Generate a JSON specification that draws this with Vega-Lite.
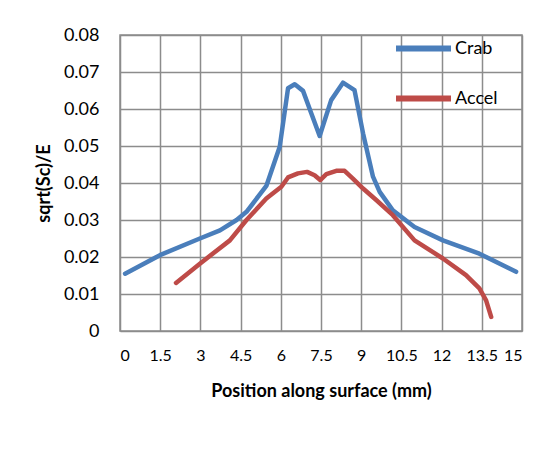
{
  "$schema": "https://vega.github.io/schema/vega-lite/v6.json",
  "width": 402,
  "height": 296,
  "autosize": {"type": "none"},
  "padding": {"left": 120, "top": 35, "right": 38, "bottom": 120},
  "background": "white",
  "data": {
    "values": [
      {"pos": 0.19, "val": 0.0155, "series": "Crab"},
      {"pos": 1.49, "val": 0.0205, "series": "Crab"},
      {"pos": 2.98, "val": 0.025, "series": "Crab"},
      {"pos": 3.73, "val": 0.0272, "series": "Crab"},
      {"pos": 4.35, "val": 0.03, "series": "Crab"},
      {"pos": 4.72, "val": 0.0322, "series": "Crab"},
      {"pos": 5.46, "val": 0.0392, "series": "Crab"},
      {"pos": 5.96, "val": 0.0498, "series": "Crab"},
      {"pos": 6.27, "val": 0.0656, "series": "Crab"},
      {"pos": 6.52, "val": 0.0667, "series": "Crab"},
      {"pos": 6.83, "val": 0.0649, "series": "Crab"},
      {"pos": 7.14, "val": 0.0588, "series": "Crab"},
      {"pos": 7.45, "val": 0.0527, "series": "Crab"},
      {"pos": 7.88, "val": 0.0624, "series": "Crab"},
      {"pos": 8.32, "val": 0.0671, "series": "Crab"},
      {"pos": 8.75, "val": 0.0651, "series": "Crab"},
      {"pos": 9.07, "val": 0.0534, "series": "Crab"},
      {"pos": 9.44, "val": 0.0417, "series": "Crab"},
      {"pos": 9.69, "val": 0.0376, "series": "Crab"},
      {"pos": 10.18, "val": 0.0326, "series": "Crab"},
      {"pos": 10.99, "val": 0.0281, "series": "Crab"},
      {"pos": 12.05, "val": 0.0245, "series": "Crab"},
      {"pos": 13.41, "val": 0.0209, "series": "Crab"},
      {"pos": 14.78, "val": 0.016, "series": "Crab"},
      {"pos": 2.09, "val": 0.013, "series": "Accel"},
      {"pos": 2.98, "val": 0.0182, "series": "Accel"},
      {"pos": 4.1, "val": 0.0245, "series": "Accel"},
      {"pos": 4.72, "val": 0.03, "series": "Accel"},
      {"pos": 5.46, "val": 0.0358, "series": "Accel"},
      {"pos": 6.02, "val": 0.039, "series": "Accel"},
      {"pos": 6.27, "val": 0.0415, "series": "Accel"},
      {"pos": 6.64, "val": 0.0426, "series": "Accel"},
      {"pos": 6.98, "val": 0.043, "series": "Accel"},
      {"pos": 7.26, "val": 0.0421, "series": "Accel"},
      {"pos": 7.47, "val": 0.0408, "series": "Accel"},
      {"pos": 7.7, "val": 0.0424, "series": "Accel"},
      {"pos": 8.07, "val": 0.0433, "series": "Accel"},
      {"pos": 8.38, "val": 0.0433, "series": "Accel"},
      {"pos": 8.69, "val": 0.0412, "series": "Accel"},
      {"pos": 9.07, "val": 0.0385, "series": "Accel"},
      {"pos": 9.56, "val": 0.0354, "series": "Accel"},
      {"pos": 10.18, "val": 0.0313, "series": "Accel"},
      {"pos": 10.99, "val": 0.0245, "series": "Accel"},
      {"pos": 12.05, "val": 0.0196, "series": "Accel"},
      {"pos": 12.91, "val": 0.0151, "series": "Accel"},
      {"pos": 13.41, "val": 0.0115, "series": "Accel"},
      {"pos": 13.66, "val": 0.0083, "series": "Accel"},
      {"pos": 13.85, "val": 0.0038, "series": "Accel"}
    ]
  },
  "mark": {"type": "line", "strokeWidth": 4.5, "strokeJoin": "round", "strokeCap": "round"},
  "encoding": {
    "x": {
      "field": "pos",
      "type": "quantitative",
      "title": "Position along surface (mm)",
      "scale": {"domain": [0, 15], "nice": false, "zero": false},
      "axis": {
        "values": [0, 1.5, 3, 4.5, 6, 7.5, 9, 10.5, 12, 13.5, 15],
        "format": ".3~g",
        "labelOverlap": false,
        "labelFontSize": 16,
        "labelPadding": 16,
        "titlePadding": 19
      }
    },
    "y": {
      "field": "val",
      "type": "quantitative",
      "title": "sqrt(Sc)/E",
      "scale": {"domain": [0, 0.08], "nice": false},
      "axis": {
        "values": [0, 0.01, 0.02, 0.03, 0.04, 0.05, 0.06, 0.07, 0.08],
        "format": "~g",
        "labelOverlap": false,
        "labelPadding": 21,
        "titlePadding": 10
      }
    },
    "color": {
      "field": "series",
      "type": "nominal",
      "title": null,
      "scale": {"domain": ["Crab", "Accel"], "range": ["#4a7ebb", "#be4b48"]},
      "legend": {
        "orient": "none",
        "legendX": 273,
        "legendY": -17,
        "symbolType": "stroke",
        "symbolSize": 3025,
        "symbolStrokeWidth": 6,
        "labelOffset": 1,
        "rowPadding": 7,
        "padding": 0
      }
    }
  },
  "config": {
    "font": "Lato",
    "view": {"stroke": "#8c8c8c", "strokeWidth": 1.5},
    "axis": {
      "grid": true,
      "gridColor": "#8c8c8c",
      "gridWidth": 1.5,
      "gridOpacity": 1,
      "domain": false,
      "ticks": false,
      "tickSize": 0,
      "labelFont": "Lato",
      "labelFontSize": 18,
      "labelColor": "black",
      "titleFont": "Lato",
      "titleFontSize": 18,
      "titleFontWeight": "bold",
      "titleColor": "black"
    },
    "legend": {
      "labelFont": "Lato",
      "labelFontSize": 18,
      "labelColor": "black"
    }
  }
}
